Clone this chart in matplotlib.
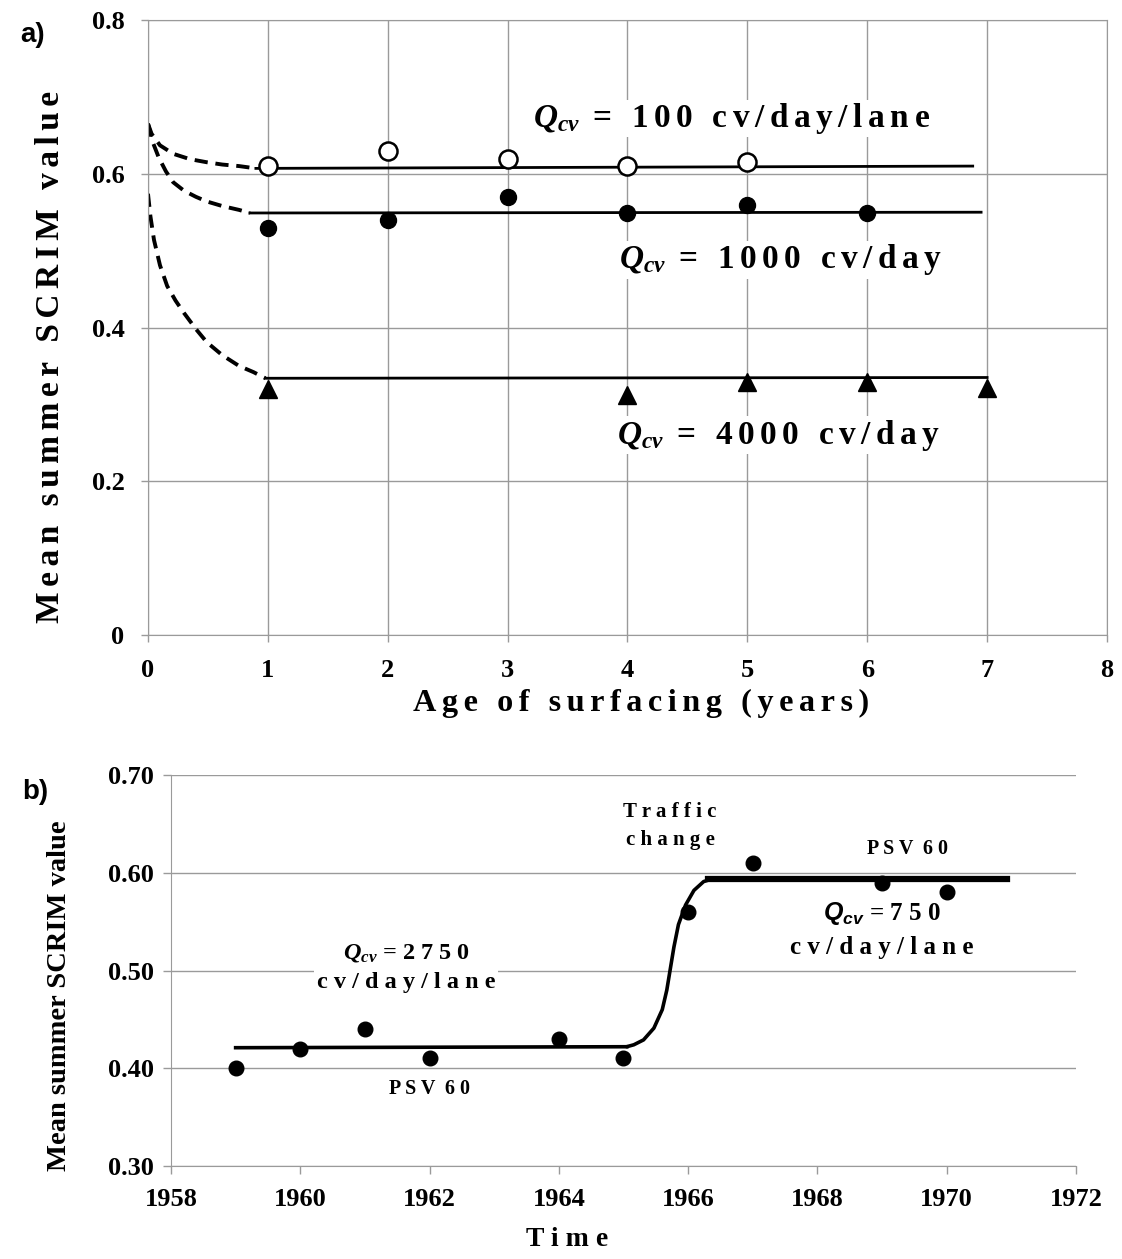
import matplotlib
matplotlib.use("Agg")
import matplotlib.pyplot as plt

plt.rcParams['font.family'] = ['Liberation Serif', 'DejaVu Serif']
plt.rcParams['font.weight'] = 'bold'
plt.rcParams['axes.labelweight'] = 'bold'
plt.rcParams['mathtext.fontset'] = 'custom'
plt.rcParams['mathtext.it'] = 'Liberation Serif:bold:italic'
plt.rcParams['mathtext.rm'] = 'Liberation Serif:bold'
plt.rcParams['mathtext.sf'] = 'Liberation Sans:bold:italic'

# ---- panel a data ----
age_100 = [1, 2, 3, 4, 5]
scrim_100 = [0.610, 0.630, 0.619, 0.610, 0.615]
age_1000 = [1, 2, 3, 4, 5, 6]
scrim_1000 = [0.529, 0.540, 0.570, 0.549, 0.559, 0.549]
age_4000 = [1, 4, 5, 6, 7]
scrim_4000 = [0.320, 0.312, 0.329, 0.329, 0.321]

# fitted levels (solid) and early-life curves (dashed)
fit_x_100 = [0.9, 6.88]
fit_y_100 = [0.607, 0.610]
fit_x_1000 = [0.85, 6.95]
fit_y_1000 = [0.549, 0.550]
fit_x_4000 = [0.98, 7.0]
fit_y_4000 = [0.334, 0.335]

early_x_100 = [0.0, 0.03, 0.1, 0.21, 0.35, 0.49, 0.62, 0.76, 0.9]
early_y_100 = [0.665, 0.652, 0.637, 0.626, 0.619, 0.615, 0.612, 0.610, 0.607]
early_x_1000 = [0.0, 0.04, 0.09, 0.15, 0.21, 0.30, 0.40, 0.49, 0.62, 0.76, 0.85]
early_y_1000 = [0.665, 0.641, 0.621, 0.603, 0.589, 0.578, 0.570, 0.564, 0.558, 0.553, 0.549]
early_x_4000 = [0.0, 0.02, 0.05, 0.1, 0.16, 0.23, 0.30, 0.40, 0.49, 0.62, 0.76, 0.88, 0.98]
early_y_4000 = [0.574, 0.545, 0.514, 0.481, 0.454, 0.435, 0.419, 0.398, 0.381, 0.364, 0.350, 0.342, 0.334]

# ---- panel b data ----
years = [1959, 1960, 1961, 1962, 1964, 1965, 1966, 1967, 1969, 1970]
scrim_b = [0.40, 0.42, 0.44, 0.41, 0.43, 0.41, 0.56, 0.61, 0.59, 0.58]

low_x = [1959.0, 1965.05]
low_y = [0.421, 0.422]
step_x = [1965.05, 1965.16, 1965.31, 1965.47, 1965.60, 1965.67, 1965.72, 1965.78,
          1965.85, 1965.96, 1966.09, 1966.24, 1966.34]
step_y = [0.422, 0.424, 0.429, 0.441, 0.460, 0.480, 0.500, 0.524,
          0.547, 0.567, 0.582, 0.591, 0.593]
high_x = [1966.3, 1970.93]
high_y = [0.594, 0.594]

grey = '#9a9a9a'
HS = '\u200a'


def spaced(s, n=1):
    return (HS * n).join(s)


fig = plt.figure(figsize=(11.22, 12.59), dpi=100)

# ================= panel a =================
ax = fig.add_axes([0.1319, 0.4956, 0.8547, 0.4885])
ax.set_xlim(0, 8)
ax.set_ylim(0, 0.8)
ax.set_xticks(range(0, 9))
ax.set_yticks([0, 0.2, 0.4, 0.6, 0.8])
ax.set_yticklabels(['0', '0.2', '0.4', '0.6', '0.8'])
ax.grid(True, color=grey, lw=1.0)
ax.set_axisbelow(True)
for s in ax.spines.values():
    s.set_color(grey)
ax.tick_params(colors=grey, labelcolor='black', length=5, width=1, labelsize=19, pad=12)

for ex, ey in [(early_x_100, early_y_100), (early_x_1000, early_y_1000), (early_x_4000, early_y_4000)]:
    ax.plot(ex, ey, 'k--', lw=2.8, dashes=(3.4, 2.0))
ax.plot(fit_x_100, fit_y_100, 'k-', lw=2.0)
ax.plot(fit_x_1000, fit_y_1000, 'k-', lw=2.0)
ax.plot(fit_x_4000, fit_y_4000, 'k-', lw=2.0)

ax.plot(age_100, scrim_100, 'o', ms=13, mfc='white', mec='black', mew=1.8)
ax.plot(age_1000, scrim_1000, 'o', ms=11.5, color='black')
ax.plot(age_4000, scrim_4000, '^', ms=12.5, color='black')

box = dict(facecolor='white', edgecolor='none', pad=1)
ax.text(4.87, 0.672, r'$Q_{cv}$' + spaced(' = 100 cv/day/lane', 2), fontsize=24,
        ha='center', va='center', bbox=box)
ax.text(5.28, 0.488, r'$Q_{cv}$' + spaced(' = 1000 cv/day', 2), fontsize=24,
        ha='center', va='center', bbox=box)
ax.text(5.26, 0.260, r'$Q_{cv}$' + spaced(' = 4000 cv/day', 2), fontsize=24,
        ha='center', va='center', bbox=box)

ax.set_ylabel(spaced('Mean summer SCRIM value', 2), fontsize=24)
ax.yaxis.set_label_coords(-0.0855, 0.452)
ax.set_xlabel(spaced('Age of surfacing (years)', 2), fontsize=23.2)
ax.xaxis.set_label_coords(0.514, -0.087)

fig.text(0.018, 0.972, 'a)', fontsize=20, family='Liberation Sans', weight='bold', va='center')

# ================= panel b =================
bx = fig.add_axes([0.1524, 0.0739, 0.8066, 0.3105])
bx.set_xlim(1958, 1972)
bx.set_ylim(0.30, 0.70)
bx.set_xticks(range(1958, 1973, 2))
bx.set_yticks([0.30, 0.40, 0.50, 0.60, 0.70])
bx.set_yticklabels(['0.30', '0.40', '0.50', '0.60', '0.70'])
bx.grid(True, axis='y', color=grey, lw=1.0)
bx.set_axisbelow(True)
bx.spines['top'].set_visible(False)
bx.spines['right'].set_visible(False)
bx.spines['left'].set_color(grey)
bx.spines['bottom'].set_color(grey)
bx.tick_params(colors=grey, labelcolor='black', length=6, width=1, labelsize=19)
bx.tick_params(axis='y', pad=6)
bx.tick_params(axis='x', pad=10)

bx.plot(low_x, low_y, 'k-', lw=2.6)
bx.plot(step_x, step_y, 'k-', lw=2.6, solid_capstyle='round', solid_joinstyle='round')
bx.plot(high_x, high_y, 'k-', lw=4.5)
bx.plot(years, scrim_b, 'o', ms=10.5, color='black')

bbox_b = dict(facecolor='white', edgecolor='none', pad=2)
bx.text(1961.64, 0.503, r'$Q_{cv}$ = 2 7 5 0' + '\n' + 'c v / d a y / l a n e', fontsize=17.5,
        ha='center', va='center', linespacing=1.45, bbox=bbox_b)
bx.text(1962.0, 0.379, 'P S V  6 0', fontsize=14.5, ha='center', va='center')
bx.text(1965.72, 0.648, 'T r a f f i c\nc h a n g e', fontsize=15, ha='center', va='center',
        linespacing=1.55)
bx.text(1969.39, 0.624, 'P S V  6 0', fontsize=14.5, ha='center', va='center')
bx.text(1969.0, 0.558, r'$\mathsf{Q_{cv}}$ = 7 5 0', fontsize=18, ha='center', va='center')
bx.text(1969.0, 0.524, 'c v / d a y / l a n e', fontsize=18, ha='center', va='center')

bx.set_ylabel('Mean summer SCRIM value', fontsize=20.5)
bx.yaxis.set_label_coords(-0.109, 0.435)
bx.set_xlabel('T i m e', fontsize=20)
bx.xaxis.set_label_coords(0.4376, -0.155)

fig.text(0.02, 0.371, 'b)', fontsize=20, family='Liberation Sans', weight='bold', va='center')

fig.savefig('out.png', dpi=100, facecolor='white')
